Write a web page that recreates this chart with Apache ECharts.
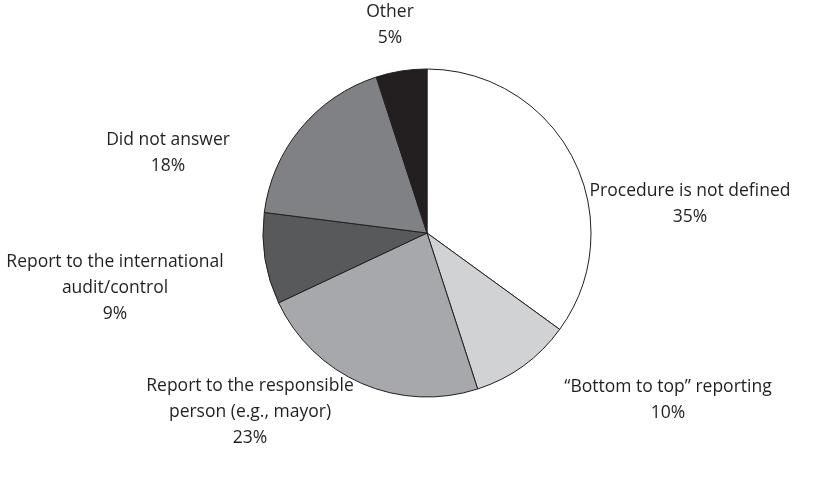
<!DOCTYPE html>
<html>
<head>
<meta charset="utf-8">
<script src="https://cdn.jsdelivr.net/npm/echarts@6/dist/echarts.min.js"></script>
<style>
html,body{margin:0;padding:0;background:#fff;}
#chart{width:823px;height:477px;}
</style>
</head>
<body>
<div id="chart"></div>
<script>
const categories = [
  'Procedure is not defined',
  '\u201cBottom to top\u201d reporting',
  'Report to the responsible\nperson (e.g., mayor)',
  'Report to the international\naudit/control',
  'Did not answer',
  'Other'
];
const values = [35, 10, 23, 9, 18, 5];
const colors = ['#ffffff', '#d1d2d4', '#a7a8ab', '#58595b', '#808184', '#231f20'];
// label block centres (layout only)
const labelCenters = [[690, 204], [668, 400], [250, 412], [115, 288], [168, 153], [390, 25]];

const chart = echarts.init(document.getElementById('chart'));
chart.setOption({
  backgroundColor: '#ffffff',
  animation: false,
  series: [{
    type: 'pie',
    center: [427, 233],
    radius: 164,
    startAngle: 90,
    clockwise: true,
    avoidLabelOverlap: false,
    data: categories.map((c, i) => ({ name: c, value: values[i], itemStyle: { color: colors[i] } })),
    itemStyle: { borderColor: '#231f20', borderWidth: 1 },
    label: {
      show: true,
      position: 'outside',
      formatter: p => p.name + '\n' + p.value + '%',
      color: '#231f20',
      fontFamily: 'Open Sans',
      fontSize: 17.5,
      lineHeight: 26,
      align: 'center',
      overflow: 'none',
      width: 400
    },
    labelLine: { show: false },
    labelLayout: params => ({
      x: labelCenters[params.dataIndex][0],
      y: labelCenters[params.dataIndex][1],
      align: 'center',
      verticalAlign: 'middle'
    }),
    emphasis: { disabled: true }
  }]
});
</script>
</body>
</html>
